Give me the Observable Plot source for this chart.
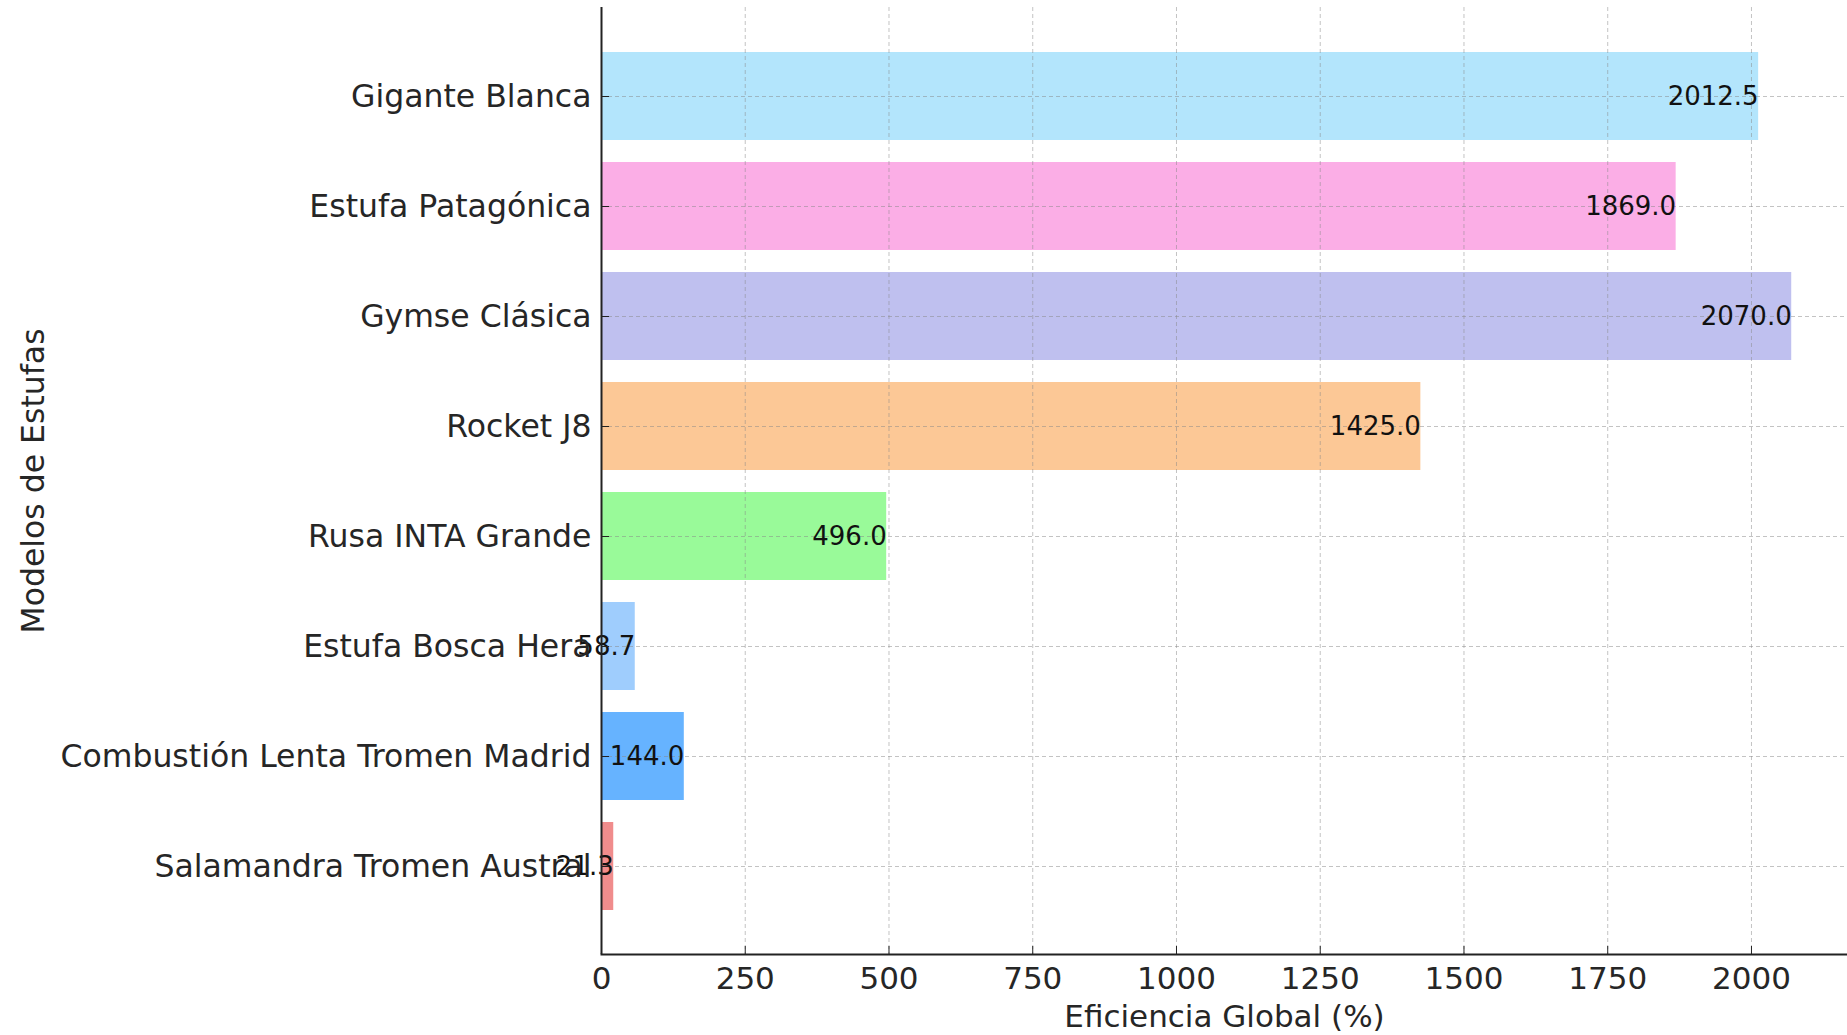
<!DOCTYPE html>
<html>
<head>
<meta charset="utf-8">
<script src="https://cdn.jsdelivr.net/npm/d3@7"></script>
<script src="https://cdn.jsdelivr.net/npm/@observablehq/plot@0.6"></script>
<style>
  html, body { margin: 0; padding: 0; background: #fff; }
  #chart svg { display: block; }
</style>
</head>
<body>
<div id="chart"></div>
<script>
const categories = [
  "Gigante Blanca",
  "Estufa Patagónica",
  "Gymse Clásica",
  "Rocket J8",
  "Rusa INTA Grande",
  "Estufa Bosca Hera",
  "Combustión Lenta Tromen Madrid",
  "Salamandra Tromen Austral"
];
const values = [2012.5, 1869.0, 2070.0, 1425.0, 496.0, 58.7, 144.0, 21.3];
const colors = ["#b3e5fc", "#fbaee6", "#bfc0ef", "#fcc896", "#99fa99", "#9fcdfd", "#66b3ff", "#f08c8c"];
const xTicks = [0, 250, 500, 750, 1000, 1250, 1500, 1750, 2000];
const xLabel = "Eficiencia Global (%)";
const yLabel = "Modelos de Estufas";

const data = categories.map((name, i) => ({name, value: values[i], color: colors[i]}));

const chart = Plot.plot({
  width: 1847,
  height: 1035,
  marginLeft: 601,
  marginRight: 0,
  marginTop: 7,
  marginBottom: 81,
  style: {fontFamily: "DejaVu Sans", background: "#fff", color: "#262626"},
  x: {domain: [0, 2167]},
  y: {domain: categories, paddingInner: 0.2, paddingOuter: 0.4},
  color: {type: "identity"},
  marks: [
    Plot.barX(data, {x: "value", y: "name", fill: "color"}),
    Plot.gridX({ticks: xTicks, stroke: "#888", strokeOpacity: 0.5, strokeWidth: 1, strokeDasharray: "4,3"}),
    Plot.gridY({stroke: "#888", strokeOpacity: 0.5, strokeWidth: 1, strokeDasharray: "4,3"}),
    Plot.text(data, {x: "value", y: "name", text: d => d.value.toFixed(1), textAnchor: "end", fontSize: 26, fill: "#111"}),
    Plot.axisX({ticks: xTicks, tickFormat: d => String(d), fontSize: 31, tickSize: -8, tickPadding: 20, stroke: "#222",
      label: xLabel, labelAnchor: "center", labelArrow: "none", labelOffset: 72}),
    Plot.axisY({fontSize: 31.5, tickSize: -8, tickPadding: 18, stroke: "#222",
      label: yLabel, labelAnchor: "center", labelArrow: "none", labelOffset: 580}),
    Plot.ruleX([0], {stroke: "#222", strokeWidth: 2}),
    Plot.frame({anchor: "bottom", stroke: "#222", strokeWidth: 2})
  ]
});
document.getElementById("chart").appendChild(chart);
</script>
</body>
</html>
